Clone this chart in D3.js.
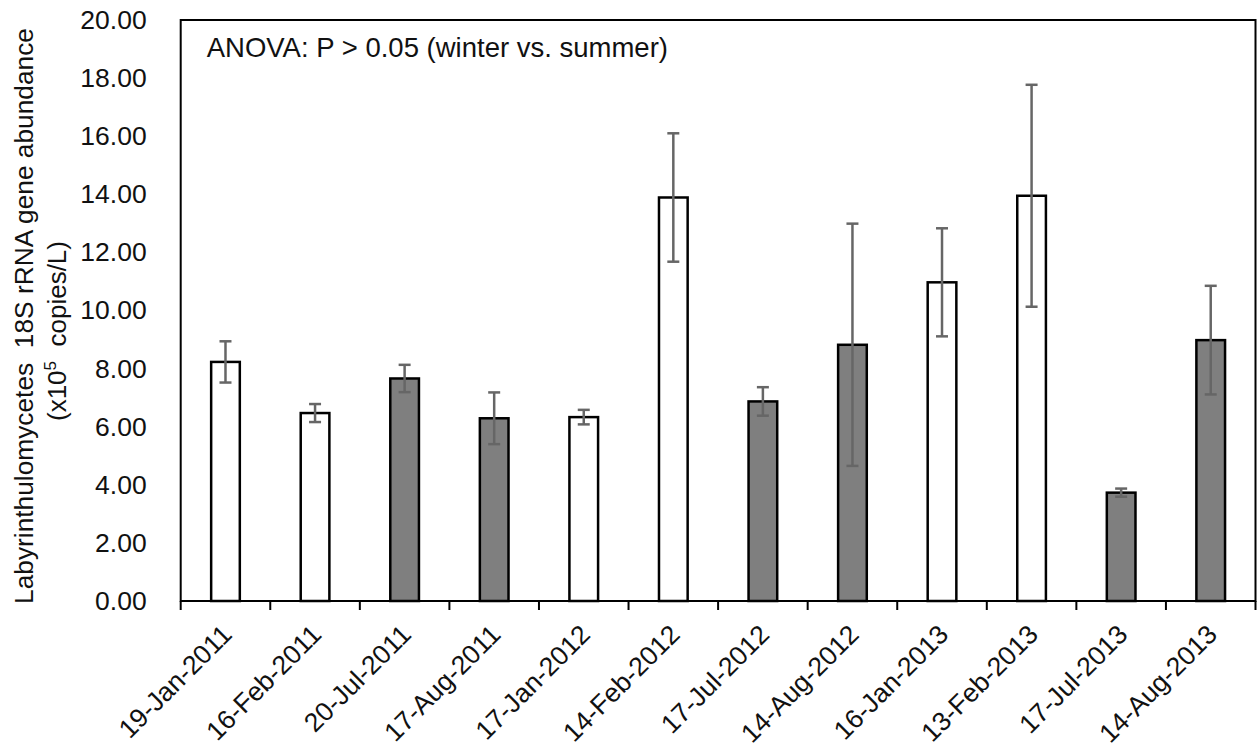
<!DOCTYPE html>
<html>
<head>
<meta charset="utf-8">
<script src="https://cdn.jsdelivr.net/npm/d3@7"></script>
<style>
  body{margin:0;background:#fff;}
  svg{display:block;font-family:"Liberation Sans",Arial,sans-serif;}
  .axis path,.axis line{stroke:#000;stroke-width:2;}
  .axis text{fill:#111;font-size:26.5px;}
</style>
</head>
<body>
<div id="chart"></div>
<script>
// sampling dates, mean abundance (x10^5 copies/L) and error
const dates=['19-Jan-2011','16-Feb-2011','20-Jul-2011','17-Aug-2011','17-Jan-2012','14-Feb-2012',
             '17-Jul-2012','14-Aug-2012','16-Jan-2013','13-Feb-2013','17-Jul-2013','14-Aug-2013'];
const means=[8.23,6.47,7.66,6.29,6.33,13.89,6.87,8.82,10.97,13.95,3.73,8.98];
const errs=[0.71,0.31,0.47,0.89,0.25,2.21,0.49,4.17,1.86,3.82,0.14,1.87];
const season=['winter','winter','summer','summer','winter','winter','summer','summer','winter','winter','summer','summer'];
const yTicks=[0,2,4,6,8,10,12,14,16,18,20];

const margin={top:20,right:1.5,bottom:149,left:180.7},
      W=1257-margin.left-margin.right,
      H=750-margin.top-margin.bottom;

const svg=d3.select('#chart').append('svg').attr('width',1257).attr('height',750);
const g=svg.append('g').attr('transform',`translate(${margin.left},${margin.top})`);

const x=d3.scaleBand().domain(dates).range([0,W]).padding(0),
      y=d3.scaleLinear().domain([0,20]).range([H,0]);

const rows=dates.map((d,i)=>({date:d,v:means[i],e:errs[i],s:season[i]}));
const barW=x.bandwidth()*0.32;

// plot frame
g.append('rect').attr('x',0).attr('y',0).attr('width',W).attr('height',H)
  .attr('fill','none').attr('stroke','#000').attr('stroke-width',2);

// y axis (no tick marks)
const yAx=g.append('g').attr('class','axis y')
  .call(d3.axisLeft(y).tickValues(yTicks).tickFormat(d3.format('.2f')).tickSize(0).tickPadding(34));
yAx.select('.domain').remove();

// bars
g.append('g').selectAll('rect').data(rows).enter().append('rect')
  .attr('x',d=>x(d.date)+x.bandwidth()/2-barW/2)
  .attr('y',d=>y(d.v))
  .attr('width',barW)
  .attr('height',d=>y(0)-y(d.v))
  .attr('fill',d=>d.s==='summer'?'#7f7f7f':'#fff')
  .attr('stroke','#000').attr('stroke-width',2.5);

// error bars
const eb=g.append('g').attr('stroke','#666').attr('stroke-width',2.5).selectAll('g').data(rows).enter().append('g')
  .attr('transform',d=>`translate(${x(d.date)+x.bandwidth()/2},0)`);
eb.append('line').attr('y1',d=>y(d.v+d.e)).attr('y2',d=>y(d.v-d.e));
eb.append('line').attr('x1',-6).attr('x2',6).attr('y1',d=>y(d.v+d.e)).attr('y2',d=>y(d.v+d.e));
eb.append('line').attr('x1',-6).attr('x2',6).attr('y1',d=>y(d.v-d.e)).attr('y2',d=>y(d.v-d.e));

// x axis: ticks on category boundaries
const xAx=g.append('g').attr('class','axis x').attr('transform',`translate(0,${H})`);
xAx.append('line').attr('x1',0).attr('x2',W).attr('stroke','#000').attr('stroke-width',2);
xAx.selectAll('.tk').data(d3.range(dates.length+1)).enter().append('line').attr('class','tk')
  .attr('x1',i=>i<dates.length?x(dates[i]):W).attr('x2',i=>i<dates.length?x(dates[i]):W)
  .attr('y1',0).attr('y2',9);
xAx.selectAll('text').data(dates).enter().append('text')
  .attr('transform',d=>`translate(${x(d)+x.bandwidth()/2+8},35) rotate(-45)`)
  .attr('text-anchor','end')
  .attr('font-size',26.5)
  .text(d=>d);

// annotation
g.append('text').attr('x',26).attr('y',37).attr('font-size',27.5).attr('fill','#111')
  .text('ANOVA: P > 0.05 (winter vs. summer)');

// y title, two lines
svg.append('text').attr('transform','translate(33,316) rotate(-90)')
  .attr('text-anchor','middle').attr('font-size',26.3).attr('fill','#111')
  .attr('xml:space','preserve')
  .text('Labyrinthulomycetes  18S rRNA gene abundance');
const t2=svg.append('text').attr('transform','translate(66,331) rotate(-90)')
  .attr('text-anchor','middle').attr('font-size',26).attr('fill','#111')
  .attr('xml:space','preserve');
t2.append('tspan').text('(x10');
t2.append('tspan').attr('font-size',17).attr('dy',-10).text('5');
t2.append('tspan').attr('dy',10).text('  copies/L)');
</script>
</body>
</html>
